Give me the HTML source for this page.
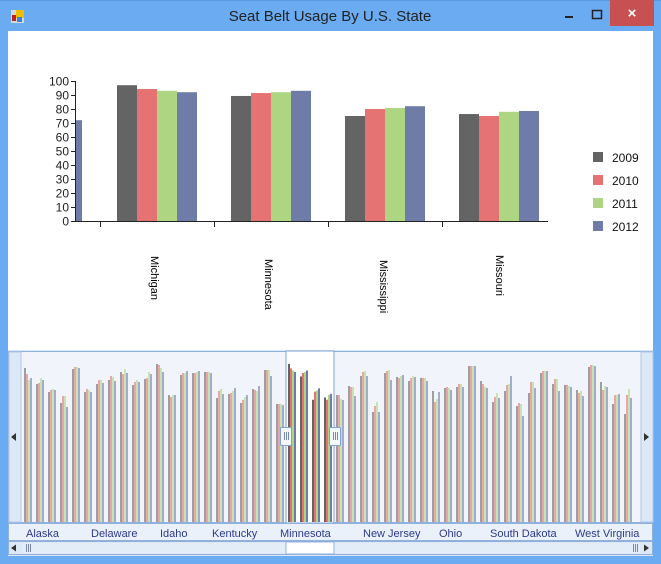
<!DOCTYPE html>
<html><head><meta charset="utf-8"><style>
html,body{margin:0;padding:0;width:661px;height:564px;overflow:hidden;background:#6aabf2;font-family:"Liberation Sans",sans-serif}
svg{display:block}
</style></head><body>
<svg id="s" width="661" height="564" xmlns="http://www.w3.org/2000/svg">
<rect x="0" y="0" width="661" height="564" fill="#6aabf2"/>
<rect x="0" y="0" width="661" height="1" fill="#5a9ae0"/>
<rect x="11" y="10" width="13" height="13" fill="#d8d8d8"/>
<rect x="16" y="10" width="8" height="8" fill="#f0c000"/>
<rect x="12" y="15" width="4" height="6" fill="#c02020"/>
<rect x="17" y="17" width="5" height="5" fill="#4080d0"/>
<text x="330" y="21" text-anchor="middle" font-size="15" fill="#222" font-family="Liberation Sans, sans-serif">Seat Belt Usage By U.S. State</text>
<rect x="565" y="16" width="8" height="2" fill="#222"/>
<rect x="592.5" y="10.5" width="9" height="8" fill="none" stroke="#222" stroke-width="1.5"/>
<rect x="610" y="0" width="44" height="26" fill="#c75050"/>
<text x="632" y="18" font-size="15" fill="#fff" text-anchor="middle" font-weight="bold">×</text>
<rect x="8" y="31" width="645" height="525" fill="#fff"/>
<g id="main"></g>
<g id="nav"></g>
</svg>
<script>
var NS="http://www.w3.org/2000/svg";
function el(p,t,a,txt){var e=document.createElementNS(NS,t);for(var k in a)e.setAttribute(k,a[k]);if(txt!=null)e.textContent=txt;p.appendChild(e);return e;}
var C=["#646464","#e57373","#aed581","#6f7ca8"];
var m=document.getElementById("main");
el(m,"rect",{x:75,y:81,width:1,height:141,fill:"#222"});
for(var v=0;v<=100;v+=10){var yy=221-v*1.4;el(m,"rect",{x:71,y:yy,width:4,height:1,fill:"#222"});
el(m,"text",{x:69,y:yy+4.5,"text-anchor":"end","font-size":"12",fill:"#222"},String(v));}
el(m,"rect",{x:75,y:221,width:473,height:1,fill:"#222"});
[100,214,328,442].forEach(function(x){el(m,"rect",{x:x,y:221,width:1,height:6,fill:"#222"});});
el(m,"rect",{x:76,y:221-72*1.4,width:6,height:72*1.4,fill:C[3]});
var mv=[[97,94.3,93,92],[89.3,91.4,92,93],[75,80,80.7,82],[76.4,75,78,78.6]];
var names=["Michigan","Minnesota","Mississippi","Missouri"];
var lx=[[151,256],[265,259],[380,260],[496,255]];
for(var g=0;g<4;g++){for(var i=0;i<4;i++){var h=mv[g][i]*1.4;el(m,"rect",{x:117+g*114+i*20,y:221-h,width:20,height:h,fill:C[i]});}
el(m,"text",{x:0,y:0,"font-size":"11",fill:"#000",transform:"translate("+lx[g][0]+","+lx[g][1]+") rotate(90)"},names[g]);}
["2009","2010","2011","2012"].forEach(function(t,i){el(m,"rect",{x:593,y:152+i*23,width:10,height:10,fill:C[i]});
el(m,"text",{x:612,y:162+i*23,"font-size":"12",fill:"#111"},t);});
var n=document.getElementById("nav");
el(n,"rect",{x:8,y:350,width:645,height:206,fill:"#dce7f5"});
el(n,"rect",{x:8.5,y:351.5,width:644,height:171,fill:"#f1f5fb",stroke:"#8fb1dc"});
el(n,"rect",{x:9,y:352,width:12,height:170,fill:"#dde8f6",stroke:"#b0c8e8"});
el(n,"rect",{x:641,y:352,width:12,height:170,fill:"#dde8f6",stroke:"#b0c8e8"});
el(n,"path",{d:"M11 437 L16 433 L16 441 Z",fill:"#333"});
el(n,"path",{d:"M649 437 L644 433 L644 441 Z",fill:"#333"});
el(n,"rect",{x:286,y:351,width:48,height:172,fill:"#fff",stroke:"#7fa3d3"});
var T=[[368,374,380,378],[384,383,378,380],[392,390,389,390],[403,396,396,407],[369,367,367,368],[392,389,390,392],[384,380,380,383],[380,376,377,381],[372,374,369,373],[385,382,380,382],[379,378,372,374],[364,365,368,372],[395,397,395,395],[375,373,373,371],[373,373,372,371],[372,372,372,373],[398,391,389,394],[394,393,391,388],[403,400,397,395],[389,390,391,386],[370,370,370,376],[404,404,404,405],null,null,null,null,
[395,395,399,400],[386,387,387,396],[376,372,371,376],[412,406,402,412],[373,371,370,380],[377,378,376,375],[381,378,376,377],[378,378,378,381],[391,402,399,392],[388,387,388,390],[387,384,384,387],[366,366,366,366],[381,384,387,388],[402,397,393,398],[391,385,384,376],[406,403,404,416],[393,382,382,388],[373,371,371,371],[384,379,379,391],[385,385,386,387],[390,393,391,396],[367,365,365,366],[382,390,386,387],[404,395,395,394],[414,395,389,398]];
for(var g=0;g<51;g++){var sel=(g>=22&&g<=25);
for(var i=0;i<4;i++){var tp=sel?522-mv[g-22][i]*1.63:T[g][i];
el(n,"rect",{x:24+g*12+i*2,y:tp,width:2,height:522-tp,fill:C[i],opacity:sel?1:0.6});}}
[280,329].forEach(function(x){el(n,"rect",{x:x+0.5,y:427.5,width:11,height:18,rx:1,fill:"#f4f8fd",stroke:"#7fa3d3"});
for(var k=0;k<3;k++)el(n,"rect",{x:x+4+k*2,y:432,width:1,height:8,fill:"#7a8aa8"});});
el(n,"rect",{x:8.5,y:523.5,width:644,height:17,fill:"#eaf1fa",stroke:"#8fb1dc"});
[["Alaska",26],["Delaware",91],["Idaho",160],["Kentucky",212],["Minnesota",280],["New Jersey",363],["Ohio",439],["South Dakota",490],["West Virginia",575]].forEach(function(a){
el(n,"text",{x:a[1],y:537,"font-size":"11",fill:"#2e3a8c"},a[0]);});
el(n,"rect",{x:8.5,y:541.5,width:644,height:13,fill:"#dce8f6",stroke:"#8fb1dc"});
el(n,"rect",{x:22,y:543,width:618,height:10,fill:"#e3edf8"});
el(n,"rect",{x:286,y:542,width:48,height:12,fill:"#fff",stroke:"#8fb1dc"});
el(n,"path",{d:"M11 548 L16 544.5 L16 551.5 Z",fill:"#333"});
el(n,"path",{d:"M649 548 L644 544.5 L644 551.5 Z",fill:"#333"});
for(var k=0;k<3;k++){el(n,"rect",{x:26+k*2,y:544,width:1,height:8,fill:"#7a8aa8"});el(n,"rect",{x:633+k*2,y:544,width:1,height:8,fill:"#7a8aa8"});}
</script>
</body></html>
